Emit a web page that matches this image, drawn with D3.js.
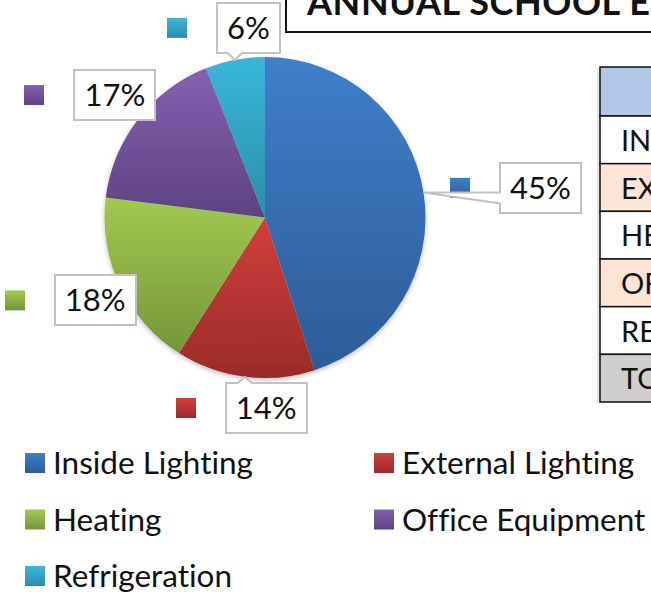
<!DOCTYPE html>
<html lang="en">
<head>
<meta charset="UTF-8">
<title>Annual School Energy</title>
<script src="https://d3js.org/d3.v7.min.js"></script>
<style>
  body { margin: 0; background: #fff; }
  svg { display: block; font-family: Lato, "Open Sans", sans-serif; font-variant-ligatures: none; }
</style>
</head>
<body>
<svg width="651" height="597"></svg>
<script>
// chart data
const categories = ["Inside Lighting", "External Lighting", "Heating", "Office Equipment", "Refrigeration"];
const shares = [45, 14, 18, 17, 6];
const colorsTop = ["#3f7fcb", "#d13f3c", "#a3c94f", "#8461b0", "#3ab6da"];
const colorsBottom = ["#2c5c98", "#9a2b29", "#76953a", "#5d4381", "#2a8eab"];

// table rows beside the chart (only left edge shows)
const tableRows = ["INSIDE LIGHTING", "EXTERNAL LIGHTING", "HEATING", "OFFICE EQUIPMENT", "REFRIGERATION", "TOTAL"];
const tableFills = ["#ffffff", "#fce4d6", "#ffffff", "#fce4d6", "#ffffff", "#d0cece"];

const titleText = "ANNUAL SCHOOL ENERGY CONSUMPTION";

// layout
const cx = 265, cy = 217.5, radius = 160.5;
const labelRadius = 190;
// per-label nudges from the default label spot (px)
const labelNudge = [[0, 0], [25, 2], [2, 2], [0, -6], [19, -3]];

const svg = d3.select("svg");
const defs = svg.append("defs");

categories.forEach((c, i) => {
  const g = defs.append("linearGradient")
    .attr("id", "grad" + i)
    .attr("x1", 0).attr("y1", 0).attr("x2", 0).attr("y2", 1);
  g.append("stop").attr("offset", "0%").attr("stop-color", colorsTop[i]);
  g.append("stop").attr("offset", "100%").attr("stop-color", colorsBottom[i]);
});

const shadow = defs.append("filter").attr("id", "shadow")
  .attr("x", "-10%").attr("y", "-10%").attr("width", "120%").attr("height", "125%");
shadow.append("feDropShadow")
  .attr("dx", 0).attr("dy", 2).attr("stdDeviation", 2.5)
  .attr("flood-color", "#000").attr("flood-opacity", 0.25);

/* title box (clipped by the window, like the screenshot) */
svg.append("rect")
  .attr("x", 286).attr("y", -20).attr("width", 420).attr("height", 52)
  .attr("fill", "#fff").attr("stroke", "#111").attr("stroke-width", 2);
svg.append("text")
  .attr("x", 307).attr("y", 15)
  .attr("font-size", 36).attr("font-weight", 700)
  .attr("letter-spacing", 0.6)
  .attr("fill", "#111")
  .text(titleText);

/* table on the right */
const tX = 600, tTop = 67, headH = 49;
const rowY = d3.scaleLinear().domain([0, tableRows.length]).range([tTop + headH, 402]);
const table = svg.append("g");
table.append("rect")
  .attr("x", tX - 3).attr("y", tTop + 1).attr("width", 80).attr("height", 402 - tTop)
  .attr("fill", "#e4e4e4");
table.append("rect")
  .attr("x", tX).attr("y", tTop).attr("width", 80).attr("height", headH)
  .attr("fill", "#b4c6e7").attr("stroke", "#111").attr("stroke-width", 1.5);
table.selectAll("rect.row")
  .data(tableRows)
  .join("rect")
  .attr("class", "row")
  .attr("x", tX).attr("y", (d, i) => rowY(i))
  .attr("width", 80).attr("height", (d, i) => rowY(i + 1) - rowY(i))
  .attr("fill", (d, i) => tableFills[i])
  .attr("stroke", "#111").attr("stroke-width", 1.5);
table.selectAll("text.row")
  .data(tableRows)
  .join("text")
  .attr("class", "row")
  .attr("x", tX + 21).attr("y", (d, i) => (rowY(i) + rowY(i + 1)) / 2 + 11)
  .attr("font-size", 29).attr("fill", "#111")
  .text(d => d);

/* pie */
const pie = d3.pie().sort(null).value(d => d);
const arcs = pie(shares);
const arc = d3.arc().innerRadius(0).outerRadius(radius);

const pieG = svg.append("g")
  .attr("transform", `translate(${cx},${cy})`)
  .attr("filter", "url(#shadow)");
pieG.selectAll("path")
  .data(arcs)
  .join("path")
  .attr("d", arc)
  .attr("fill", (d, i) => `url(#grad${i})`);

/* data labels with legend keys */
const pointOn = (a, r) => [cx + r * Math.sin(a), cy - r * Math.cos(a)];
const labelG = svg.append("g");

arcs.forEach((d, i) => {
  const mid = (d.startAngle + d.endAngle) / 2;
  const far = i === 0 ? 277 : labelRadius;
  const ang = i === 0 ? mid + 0.05 : mid;
  let [lx, ly] = pointOn(ang, far);
  lx += labelNudge[i][0];
  ly += labelNudge[i][1];

  const txt = labelG.append("text")
    .attr("font-size", 31).attr("fill", "#111")
    .attr("text-anchor", "middle")
    .attr("x", lx).attr("y", ly + 11)
    .text(shares[i] + "%");
  const w = Math.round(txt.node().getComputedTextLength() + 20);
  const h = 50;
  const bx = Math.round(lx - w / 2), by = Math.round(ly - h / 2);

  // legend key square in front of the label
  labelG.insert("rect", "text")
    .attr("x", bx - 50).attr("y", ly - 10).attr("width", 20).attr("height", 20)
    .attr("fill", `url(#grad${i})`);

  const [tx, ty] = pointOn(mid, radius);
  let p;
  if (ty > by + h) {
    // pointer from bottom edge
    p = `M${bx},${by} H${bx + w} V${by + h} H${tx + 7} L${tx},${ty} L${tx - 7},${by + h} H${bx} Z`;
  } else if (ty < by) {
    // pointer from top edge
    p = `M${bx},${by} H${Math.max(bx, tx - 7)} L${tx},${ty} L${tx + 7},${by} H${bx + w} V${by + h} H${bx} Z`;
  } else if (tx < bx - 20) {
    // long callout wedge from left edge
    p = `M${bx},${by} H${bx + w} V${by + h} H${bx} V${ty + 11} L${tx},${ty} L${bx},${ty} Z`;
  } else {
    p = `M${bx},${by} H${bx + w} V${by + h} H${bx} Z`;
  }
  labelG.insert("path", "text")
    .attr("d", p)
    .attr("fill", "#fff").attr("stroke", "#c2c2c2").attr("stroke-width", 2);
});

/* legend at the bottom, two columns */
const legX = [25, 374];
const legY = d3.scaleLinear().domain([0, 1]).range([453, 509.5]);
const leg = svg.append("g");
categories.forEach((c, i) => {
  const col = i % 2, row = Math.floor(i / 2);
  leg.append("rect")
    .attr("x", legX[col]).attr("y", legY(row)).attr("width", 20).attr("height", 20)
    .attr("fill", `url(#grad${i})`);
  leg.append("text")
    .attr("x", legX[col] + 28).attr("y", legY(row) + 21)
    .attr("font-size", 31.5).attr("fill", "#111")
    .text(c);
});
</script>
</body>
</html>
